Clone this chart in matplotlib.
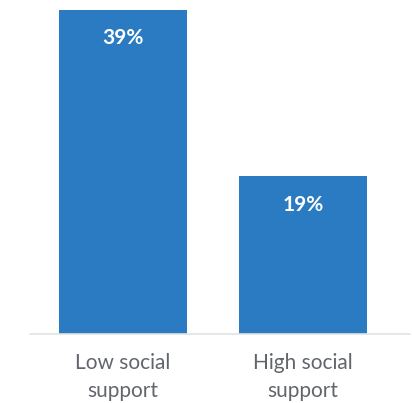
import matplotlib
matplotlib.use('Agg')
import matplotlib.pyplot as plt

# chart data
categories = ['Low social\nsupport', 'High social\nsupport']
values = [39, 19]
labels = ['39%', '19%']

plt.rcParams['font.family'] = ['Lato', 'DejaVu Sans']

fig = plt.figure(figsize=(4.12, 4.03), dpi=100)
W, H = 412, 403
# axes spans the baseline line; top of axes = top of tallest bar
ax = fig.add_axes([30 / W, 69 / H, 380 / W, 324 / H])

x = [0, 1]
ax.bar(x, values, width=0.71, color='#2a7bc1', zorder=2)
ax.set_ylim(0, 39)
ax.set_xlim(-0.517, 1.594)

for xi, v, lab in zip(x, values, labels):
    ax.annotate(lab, (xi, v), xytext=(0, -20.5), textcoords='offset points',
                ha='center', va='center', color='white', fontsize=15,
                fontweight='bold')

for s in ['top', 'right', 'left']:
    ax.spines[s].set_visible(False)
ax.spines['bottom'].set_color('#e3e3e3')
ax.spines['bottom'].set_linewidth(1.2)
ax.set_yticks([])
ax.set_xticks(x)
ax.set_xticklabels(categories, fontsize=15, color='#62666c', linespacing=1.5)
ax.tick_params(axis='x', length=0, pad=14)

fig.savefig('out.png', dpi=100)
